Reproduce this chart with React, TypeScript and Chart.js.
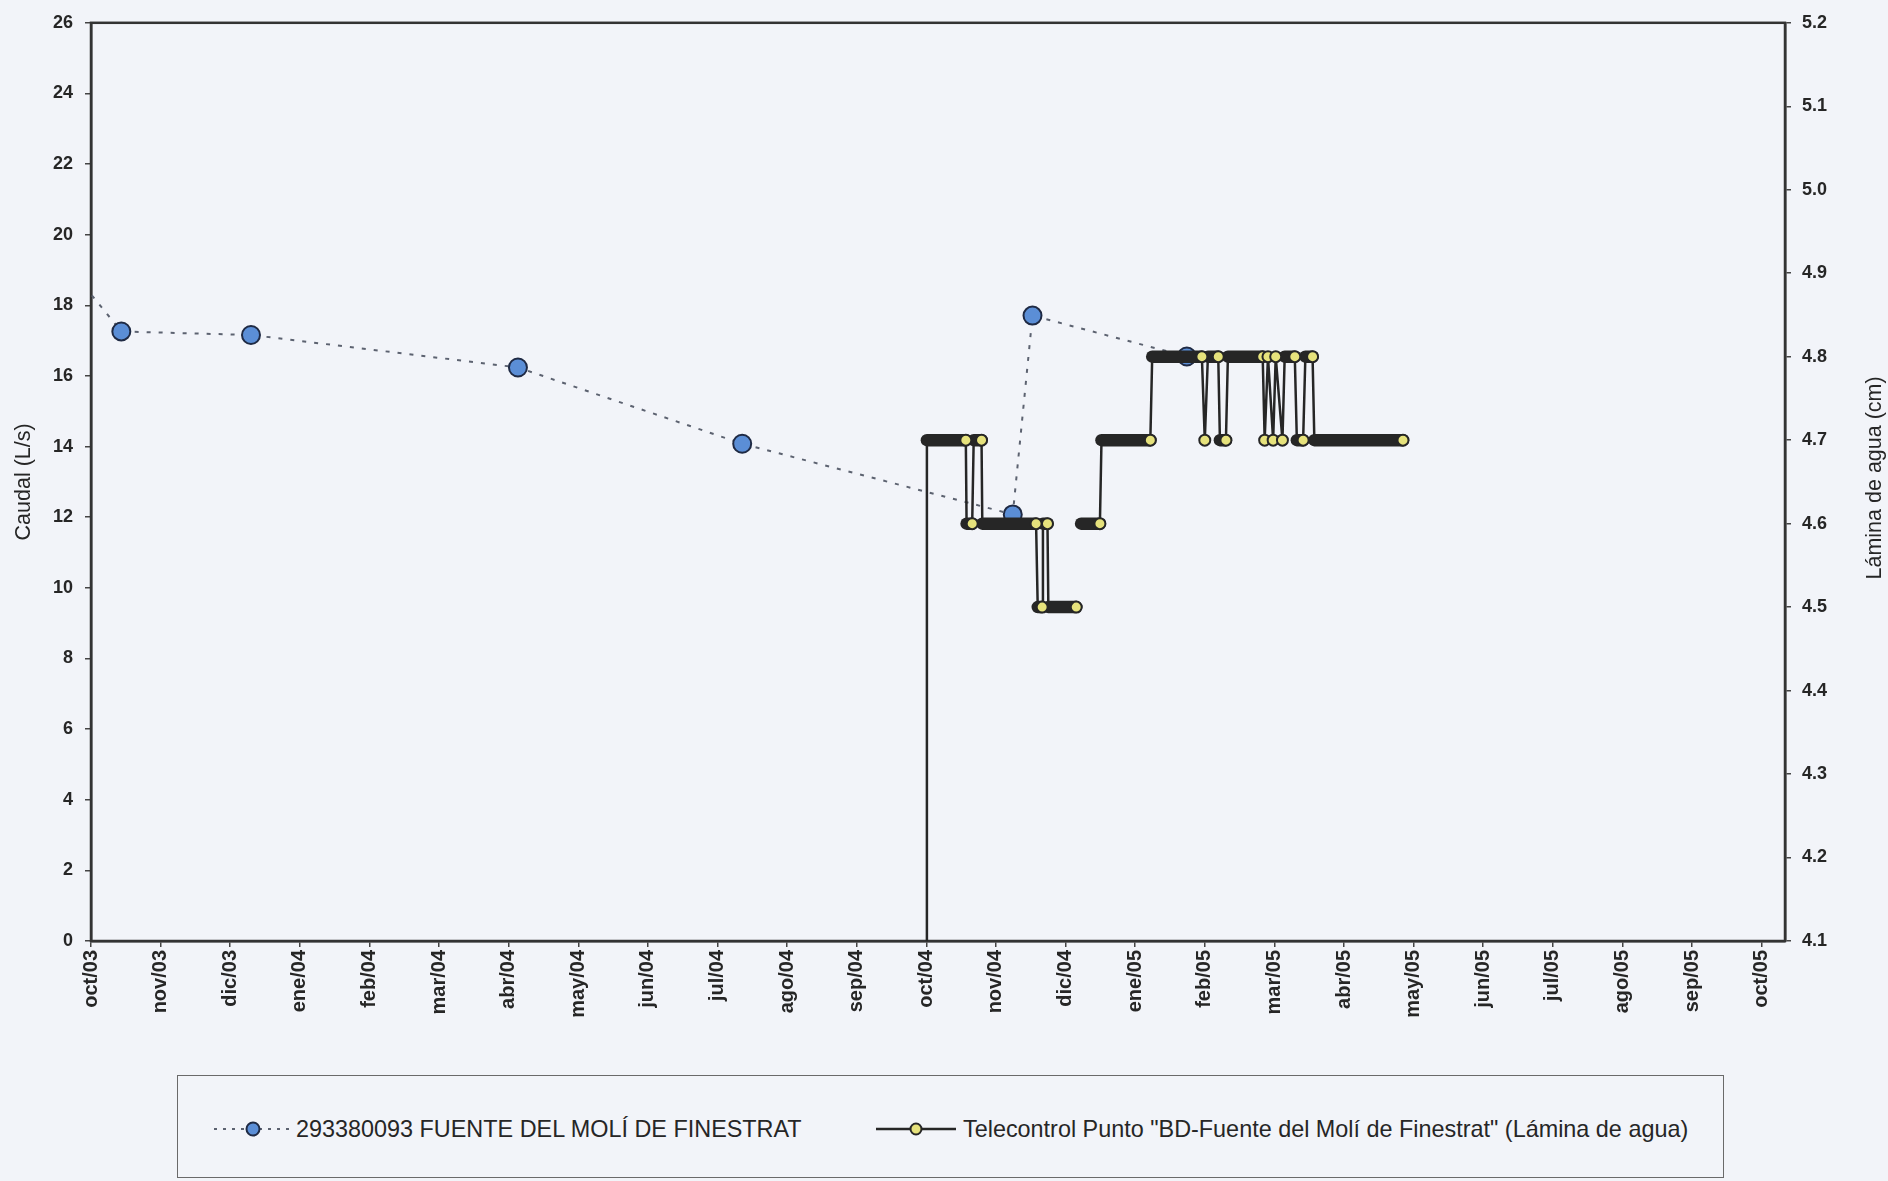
import React, { useEffect, useRef } from "react";
import { Chart, registerables } from "chart.js";

Chart.register(...registerables);

// Aforos manuales del punto 293380093 (Caudal, L/s)
const aforoFechas = [
  "2003-09-15T00:00",
  "2003-10-14T12:00",
  "2003-12-10T06:00",
  "2004-04-05T00:00",
  "2004-07-12T00:00",
  "2004-11-08T06:00",
  "2004-11-16T18:00",
  "2005-01-24T00:00",
];
const aforoCaudal = [19.6, 17.26, 17.16, 16.24, 14.08, 12.08, 17.71, 16.55];

// Telecontrol "BD-Fuente del Molí de Finestrat" (Lámina de agua, cm)
const laminaFechas = [
  "2004-10-01T00:00",
  "2004-10-01T06:00",
  "2004-10-18T14:00",
  "2004-10-18T22:00",
  "2004-10-21T10:00",
  "2004-10-22T02:00",
  "2004-10-25T14:00",
  "2004-10-25T22:00",
  "2004-11-18T07:00",
  "2004-11-19T00:00",
  "2004-11-20T22:00",
  "2004-11-21T06:00",
  "2004-11-23T05:00",
  "2004-11-23T14:00",
  "2004-12-05T18:00",
  "2004-12-06T20:00",
  "2004-12-07T22:00",
  "2004-12-16T07:00",
  "2004-12-17T00:00",
  "2005-01-07T18:00",
  "2005-01-08T14:00",
  "2005-01-30T17:00",
  "2005-02-01T00:00",
  "2005-02-02T06:00",
  "2005-02-06T10:00",
  "2005-02-07T02:00",
  "2005-02-09T12:00",
  "2005-02-10T07:00",
  "2005-02-24T07:00",
  "2005-02-25T02:00",
  "2005-02-26T10:00",
  "2005-02-28T12:00",
  "2005-03-01T14:00",
  "2005-03-04T14:00",
  "2005-03-05T14:00",
  "2005-03-10T02:00",
  "2005-03-11T00:00",
  "2005-03-13T19:00",
  "2005-03-14T19:00",
  "2005-03-18T00:00",
  "2005-03-18T19:00",
  "2005-04-26T10:00",
];
const laminaValores: (number | null)[] = [
  4.0, 4.7, 4.7, 4.6, 4.6, 4.7, 4.7, 4.6, 4.6, 4.5, 4.5, 4.6, 4.6, 4.5, 4.5,
  null, 4.6, 4.6, 4.7, 4.7, 4.8, 4.8, 4.7, 4.8, 4.8, 4.7, 4.7, 4.8, 4.8, 4.7,
  4.8, 4.7, 4.8, 4.7, 4.8, 4.8, 4.7, 4.7, 4.8, 4.8, 4.7, 4.7,
];

const mesesEtiquetas = [
  "oct/03", "nov/03", "dic/03", "ene/04", "feb/04", "mar/04", "abr/04",
  "may/04", "jun/04", "jul/04", "ago/04", "sep/04", "oct/04", "nov/04",
  "dic/04", "ene/05", "feb/05", "mar/05", "abr/05", "may/05", "jun/05",
  "jul/05", "ago/05", "sep/05", "oct/05",
];
const caudalTicks = [0, 2, 4, 6, 8, 10, 12, 14, 16, 18, 20, 22, 24, 26];
const laminaTicks = [4.1, 4.2, 4.3, 4.4, 4.5, 4.6, 4.7, 4.8, 4.9, 5.0, 5.1, 5.2];

const FONT = "'Liberation Sans', Arial, Helvetica, sans-serif";
const INK = "#262626";

// Fecha -> posición en meses desde oct/2003 (cada mes ocupa lo mismo en el eje)
function aMes(fecha: string): number {
  const [d, t] = fecha.split("T");
  const [y, mo, dd] = d.split("-").map(Number);
  const [hh, mm] = (t || "00:00").split(":").map(Number);
  const diasMes = new Date(Date.UTC(y, mo, 0)).getUTCDate();
  const idx = (y - 2003) * 12 + (mo - 10);
  return idx + (dd - 1 + (hh + mm / 60) / 24) / diasMes;
}

const marco = {
  id: "marco",
  beforeDatasetsDraw(chart: any) {
    const { ctx, chartArea: a } = chart;
    ctx.save();
    ctx.strokeStyle = "#333";
    ctx.lineWidth = 2.5;
    ctx.strokeRect(a.left, a.top, a.right - a.left, a.bottom - a.top);
    ctx.restore();
  },
  afterDraw(chart: any) {
    const { ctx, chartArea: a } = chart;
    const cy = (a.top + a.bottom) / 2;
    ctx.save();
    ctx.fillStyle = INK;
    ctx.font = `21.5px ${FONT}`;
    ctx.textAlign = "center";
    ctx.textBaseline = "middle";
    ctx.translate(24, cy);
    ctx.rotate(-Math.PI / 2);
    ctx.fillText("Caudal (L/s)", 0, 0);
    ctx.restore();
    ctx.save();
    ctx.fillStyle = INK;
    ctx.font = `21.5px ${FONT}`;
    ctx.textAlign = "center";
    ctx.textBaseline = "middle";
    ctx.translate(1875, cy - 4);
    ctx.rotate(-Math.PI / 2);
    ctx.fillText("Lámina de agua (cm)", 0, 0);
    ctx.restore();
  },
};

export default function App() {
  const ref = useRef<HTMLCanvasElement>(null);

  useEffect(() => {
    document.body.style.margin = "0";
    const canvas = ref.current;
    if (!canvas) return;

    const axisGrid = {
      display: true,
      drawOnChartArea: false,
      drawTicks: true,
      tickLength: 6,
      color: "#444",
      lineWidth: 1.5,
    };
    const axisBorder = { display: true, color: "#333", width: 2.5 };

    const chart = new Chart(canvas, {
      type: "line",
      data: {
        datasets: [
          {
            label: 'Telecontrol Punto "BD-Fuente del Molí de Finestrat" (Lámina de agua)',
            yAxisID: "y1",
            order: 0,
            data: laminaFechas.map((f, i) => ({ x: aMes(f), y: laminaValores[i] })),
            borderColor: INK,
            borderWidth: 2.5,
            borderCapStyle: "round",
            borderJoinStyle: "round",
            tension: 0,
            spanGaps: false,
            segment: {
              borderWidth: (c: any) =>
                Math.abs(c.p0.y - c.p1.y) < 0.5 ? 12.5 : 2.5,
            },
            pointRadius: (c: any) => {
              const i = c.dataIndex;
              if (i === undefined) return 5.5;
              const v = laminaValores[i];
              if (v === null) return 0;
              const n = laminaValores[i + 1];
              return n === undefined || n !== v ? 5.5 : 0;
            },
            pointBackgroundColor: "#e6e27c",
            pointBorderColor: INK,
            pointBorderWidth: 2,
            pointHoverRadius: 5.5,
          } as any,
          {
            label: "293380093 FUENTE DEL MOLÍ DE FINESTRAT",
            yAxisID: "y",
            order: 1,
            data: aforoFechas.map((f, i) => ({ x: aMes(f), y: aforoCaudal[i] })),
            borderColor: "#5c6270",
            borderWidth: 2,
            borderDash: [4, 8],
            tension: 0,
            pointRadius: 9,
            pointBackgroundColor: "#5b8ed6",
            pointBorderColor: "#1f2a44",
            pointBorderWidth: 2,
            pointHoverRadius: 9,
          } as any,
        ],
      },
      options: {
        responsive: false,
        animation: false,
        events: [],
        layout: { padding: { top: 21, left: 0, right: 0, bottom: 0 } },
        plugins: {
          legend: { display: false },
          tooltip: { enabled: false },
        },
        scales: {
          x: {
            type: "linear",
            position: "bottom",
            min: 0,
            max: 24.335,
            grid: axisGrid,
            border: axisBorder,
            afterBuildTicks: (s: any) => {
              s.ticks = mesesEtiquetas.map((_, i) => ({ value: i }));
            },
            afterFit: (s: any) => {
              s.height = 127;
            },
            ticks: {
              autoSkip: false,
              minRotation: 90,
              maxRotation: 90,
              padding: 3,
              color: INK,
              font: { family: FONT, size: 20, weight: "bold" },
              callback: (_v: any, i: number) => mesesEtiquetas[i],
            },
          },
          y: {
            type: "linear",
            position: "left",
            min: 0,
            max: 26,
            grid: axisGrid,
            border: axisBorder,
            afterBuildTicks: (s: any) => {
              s.ticks = caudalTicks.map((v) => ({ value: v }));
            },
            afterFit: (s: any) => {
              s.width = 91;
            },
            ticks: {
              padding: 12,
              color: INK,
              font: { family: FONT, size: 18, weight: "bold" },
              callback: (v: any) => String(v),
            },
          },
          y1: {
            type: "linear",
            position: "right",
            min: 4.1,
            max: 5.2,
            grid: axisGrid,
            border: axisBorder,
            afterBuildTicks: (s: any) => {
              s.ticks = laminaTicks.map((v) => ({ value: v }));
            },
            afterFit: (s: any) => {
              s.width = 103;
            },
            ticks: {
              padding: 11,
              color: INK,
              font: { family: FONT, size: 18, weight: "bold" },
              callback: (v: any) => Number(v).toFixed(1),
            },
          },
        },
      } as any,
      plugins: [marco],
    });

    return () => chart.destroy();
  }, []);

  return (
    <div
      style={{
        position: "fixed",
        left: 0,
        top: 0,
        width: 1888,
        height: 1181,
        background: "#f2f4f9",
        overflow: "hidden",
        fontFamily: FONT,
      }}
    >
      <canvas
        ref={ref}
        width={1888}
        height={1068}
        style={{ position: "absolute", left: 0, top: 0, width: 1888, height: 1068 }}
      />
      <div
        style={{
          position: "absolute",
          left: 177,
          top: 1075,
          width: 1547,
          height: 103,
          border: "1.5px solid #6a6a6a",
          boxSizing: "border-box",
        }}
      >
        <svg
          width={78}
          height={24}
          style={{ position: "absolute", left: 36, top: 41 }}
        >
          <line x1={0} y1={12} x2={78} y2={12} stroke="#5c6270" strokeWidth={2} strokeDasharray="3 6" />
          <circle cx={39} cy={12} r={6.5} fill="#5b8ed6" stroke="#1f2a44" strokeWidth={2} />
        </svg>
        <div
          style={{
            position: "absolute",
            left: 118,
            top: 38,
            fontSize: 23.4,
            lineHeight: "30px",
            color: INK,
            whiteSpace: "nowrap",
          }}
        >
          293380093 FUENTE DEL MOLÍ DE FINESTRAT
        </div>
        <svg
          width={80}
          height={24}
          style={{ position: "absolute", left: 698, top: 41 }}
        >
          <line x1={0} y1={12} x2={80} y2={12} stroke={INK} strokeWidth={2.5} />
          <circle cx={40} cy={12} r={5.5} fill="#e6e27c" stroke={INK} strokeWidth={2} />
        </svg>
        <div
          style={{
            position: "absolute",
            left: 785,
            top: 38,
            fontSize: 23.4,
            lineHeight: "30px",
            color: INK,
            whiteSpace: "nowrap",
          }}
        >
          Telecontrol Punto "BD-Fuente del Molí de Finestrat" (Lámina de agua)
        </div>
      </div>
    </div>
  );
}
